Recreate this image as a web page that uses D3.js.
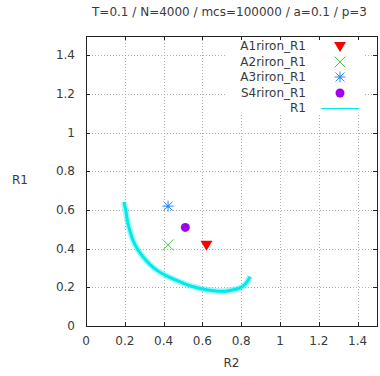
<!DOCTYPE html>
<html>
<head>
<meta charset="utf-8">
<script src="https://cdn.jsdelivr.net/npm/d3@7"></script>
<style>
  body { margin: 0; background: #fff; }
  svg { display: block; }
  text { font-family: "DejaVu Sans", sans-serif; font-size: 12px; fill: #3a3a3a; }
</style>
</head>
<body>
<svg id="chart" width="380" height="376"></svg>
<script>
var title = 'T=0.1 / N=4000 / mcs=100000 / a=0.1 / p=3';
var xTicks = [0, 0.2, 0.4, 0.6, 0.8, 1, 1.2, 1.4];
var yTicks = [0, 0.2, 0.4, 0.6, 0.8, 1, 1.2, 1.4];

// single points
var pointNames = ['A1riron_R1', 'A2riron_R1', 'A3riron_R1', 'S4riron_R1'];
var pointR2 = [0.621, 0.423, 0.423, 0.512];
var pointR1 = [0.42, 0.42, 0.62, 0.51];
var pointColors = ['#ff0000', '#44cc44', '#2a8cff', '#a000f0'];
var pointShapes = ['triangle', 'cross', 'star', 'circle'];

// R1 trajectory (R2, R1)
var curveR2 = [0.196, 0.200, 0.205, 0.210, 0.216, 0.228, 0.242, 0.265, 0.294, 0.328, 0.364, 0.41, 0.46, 0.50, 0.54, 0.588, 0.63, 0.68, 0.72, 0.753, 0.785, 0.809, 0.83, 0.845];
var curveR1 = [0.642, 0.62, 0.599, 0.565, 0.532, 0.487, 0.444, 0.398, 0.358, 0.32, 0.289, 0.262, 0.238, 0.222, 0.207, 0.194, 0.186, 0.180, 0.180, 0.186, 0.194, 0.206, 0.228, 0.256];
var curveColor = '#00eaea';

var svg = d3.select('#chart');
var margin = {left: 86, top: 36, right: 3, bottom: 50};
var W = 380, H = 376;

var x = d3.scaleLinear().domain([0, 1.5]).range([margin.left, W - margin.right]);
var y = d3.scaleLinear().domain([0, 1.5]).range([H - margin.bottom, margin.top]);

// grid
var grid = svg.append('g');
grid.selectAll('.gx').data(xTicks.filter(function(d) { return d > 0; })).enter()
    .append('line')
    .attr('x1', function(d) { return Math.round(x(d)) + 0.5; })
    .attr('x2', function(d) { return Math.round(x(d)) + 0.5; })
    .attr('y1', y(0)).attr('y2', y(1.5))
    .attr('stroke', '#b0b0b0').attr('stroke-dasharray', '1,2');
grid.selectAll('.gy').data(yTicks.filter(function(d) { return d > 0; })).enter()
    .append('line')
    .attr('y1', function(d) { return Math.round(y(d)) + 0.5; })
    .attr('y2', function(d) { return Math.round(y(d)) + 0.5; })
    .attr('x1', x(0)).attr('x2', x(1.5))
    .attr('stroke', '#b0b0b0').attr('stroke-dasharray', '1,2');

// legend box (opaque, hides grid)
svg.append('rect')
    .attr('x', 226).attr('y', y(1.5) + 1)
    .attr('width', 139).attr('height', 78)
    .attr('fill', '#fff');

// ticks on all four sides
var tl = 4;
var ticks = svg.append('g').attr('stroke', '#222').attr('stroke-width', 1);
xTicks.forEach(function(d) {
    var px = Math.round(x(d)) + 0.5;
    ticks.append('line').attr('x1', px).attr('x2', px).attr('y1', y(0)).attr('y2', y(0) - tl);
    ticks.append('line').attr('x1', px).attr('x2', px).attr('y1', y(1.5)).attr('y2', y(1.5) + tl);
});
yTicks.forEach(function(d) {
    var py = Math.round(y(d)) + 0.5;
    ticks.append('line').attr('y1', py).attr('y2', py).attr('x1', x(0)).attr('x2', x(0) + tl);
    ticks.append('line').attr('y1', py).attr('y2', py).attr('x1', x(1.5)).attr('x2', x(1.5) - tl);
});

// border
svg.append('rect')
    .attr('x', Math.round(x(0)) + 0.5).attr('y', Math.round(y(1.5)) + 0.5)
    .attr('width', Math.round(x(1.5)) - Math.round(x(0)))
    .attr('height', Math.round(y(0)) - Math.round(y(1.5)))
    .attr('fill', 'none').attr('stroke', '#222');

// tick labels
svg.selectAll('.xl').data(xTicks).enter().append('text')
    .attr('x', function(d) { return x(d); })
    .attr('y', y(0) + 19)
    .attr('text-anchor', 'middle')
    .text(function(d) { return d3.format('')(d); });
svg.selectAll('.yl').data(yTicks).enter().append('text')
    .attr('x', x(0) - 11)
    .attr('y', function(d) { return y(d) + 4; })
    .attr('text-anchor', 'end')
    .text(function(d) { return d3.format('')(d); });

// axis labels + title
svg.append('text').attr('x', (x(0) + x(1.5)) / 2).attr('y', 367).attr('text-anchor', 'middle').text('R2');
svg.append('text').attr('x', 20).attr('y', 184).attr('text-anchor', 'middle').text('R1');
svg.append('text').attr('x', (x(0) + x(1.5)) / 2 - 2).attr('y', 16).attr('text-anchor', 'middle').text(title);

// R1 curve: fuzzy halo + core
var curveData = curveR2.map(function(d, i) { return [d, curveR1[i]]; });
var line = d3.line()
    .x(function(d) { return x(d[0]); })
    .y(function(d) { return y(d[1]); })
    .curve(d3.curveCatmullRom);
svg.append('path')
    .datum(curveData)
    .attr('d', line)
    .attr('fill', 'none')
    .attr('stroke', curveColor)
    .attr('stroke-opacity', 0.35)
    .attr('stroke-width', 6)
    .attr('stroke-linejoin', 'round');
svg.append('path')
    .datum(curveData)
    .attr('d', line)
    .attr('fill', 'none')
    .attr('stroke', curveColor)
    .attr('stroke-width', 3)
    .attr('stroke-linejoin', 'round');

function drawMarker(g, shape, color) {
    if (shape == 'triangle') {
        g.append('path').attr('d', 'M -6 -4 L 6 -4 L 0 6 Z').attr('fill', color);
    } else if (shape == 'cross') {
        g.append('path').attr('d', 'M -5.5 -5.5 L 5.5 5.5 M -5.5 5.5 L 5.5 -5.5').attr('stroke', color).attr('stroke-width', 1);
    } else if (shape == 'star') {
        g.append('path').attr('d', 'M -4.5 -4.5 L 4.5 4.5 M -4.5 4.5 L 4.5 -4.5 M -5.5 0 L 5.5 0 M 0 -5.5 L 0 5.5')
            .attr('stroke', color).attr('stroke-width', 1);
        g.append('circle').attr('r', 1.5).attr('fill', color);
    } else {
        g.append('circle').attr('r', 4.5).attr('fill', color);
    }
}

// points
pointNames.forEach(function(n, i) {
    var g = svg.append('g')
        .attr('transform', 'translate(' + x(pointR2[i]) + ',' + y(pointR1[i]) + ')');
    drawMarker(g, pointShapes[i], pointColors[i]);
});

// legend
var legendNames = pointNames.concat(['R1']);
legendNames.forEach(function(n, i) {
    var ly = Math.round(46 + i * 15.6);
    svg.append('text').attr('x', 306).attr('y', ly + 4).attr('text-anchor', 'end').text(n);
    if (i < pointNames.length) {
        var g = svg.append('g').attr('transform', 'translate(340,' + ly + ')');
        drawMarker(g, pointShapes[i], pointColors[i]);
    } else {
        svg.append('line').attr('x1', 321).attr('x2', 359).attr('y1', ly + 0.5).attr('y2', ly + 0.5)
            .attr('stroke', curveColor).attr('stroke-width', 1);
    }
});
</script>
</body>
</html>
